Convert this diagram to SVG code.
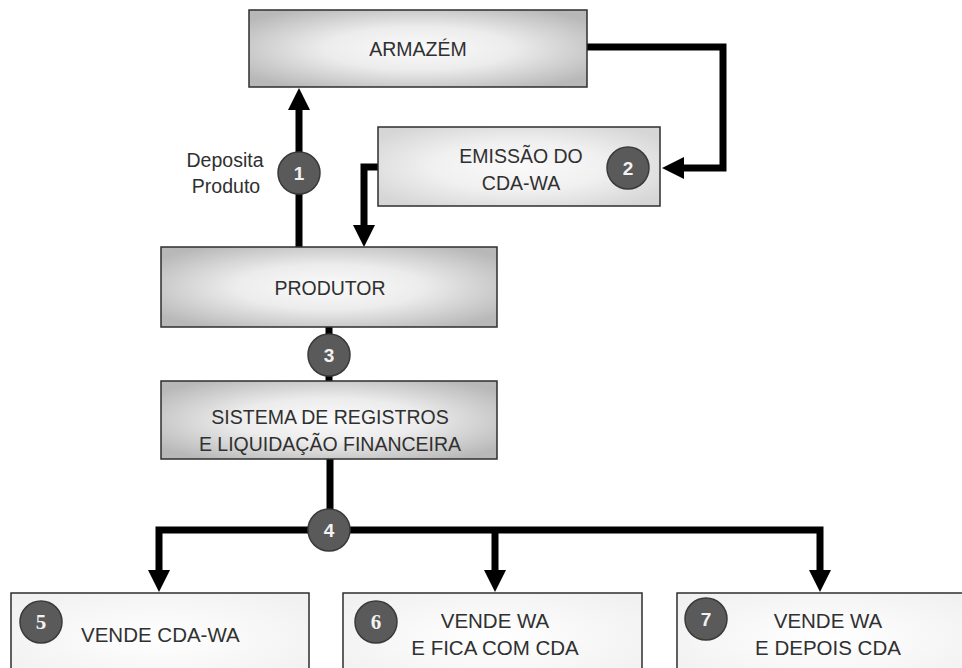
<svg xmlns="http://www.w3.org/2000/svg" width="962" height="668" viewBox="0 0 962 668">
  <style>
    .box { stroke: #2e2e2e; stroke-width: 1.5; }
    .lbl { font-family: "Liberation Sans", Arial, sans-serif; font-size: 19.5px; fill: #303030; }
    .lblb { font-family: "Liberation Sans", Arial, sans-serif; font-size: 20.5px; fill: #303030; }
    .badge { fill: #5a5a5a; stroke: #3a3a3a; stroke-width: 1.5; }
    .num { font-family: "Liberation Sans", Arial, sans-serif; font-weight: bold; font-size: 19px; fill: #f2f2f2; text-anchor: middle; }
    .numserif { font-family: "Liberation Serif", "Times New Roman", serif; font-weight: bold; font-size: 21px; fill: #f2f2f2; text-anchor: middle; }
    .wire { fill: none; stroke: #000; stroke-width: 7; stroke-linejoin: miter; }
    .head { fill: #000; }
  </style>
  <defs>
    <radialGradient id="gDark" cx="50%" cy="50%" r="62%">
      <stop offset="0" stop-color="#fafafa"/>
      <stop offset="0.45" stop-color="#ececec"/>
      <stop offset="1" stop-color="#b8b8b8"/>
    </radialGradient>
    <radialGradient id="gLight" cx="50%" cy="50%" r="62%">
      <stop offset="0" stop-color="#fafafa"/>
      <stop offset="0.5" stop-color="#f0f0f0"/>
      <stop offset="1" stop-color="#d6d6d6"/>
    </radialGradient>
    <radialGradient id="gWhite" cx="50%" cy="50%" r="62%">
      <stop offset="0" stop-color="#ffffff"/>
      <stop offset="1" stop-color="#f1f1f1"/>
    </radialGradient>
  </defs>

  <rect width="962" height="668" fill="#ffffff"/>

  <!-- connectors -->
  <g id="connectors">
    <!-- produtor -> armazem -->
    <path class="wire" d="M299 247 V108"/>
    <polygon class="head" points="299,88 288,110 310,110"/>
    <!-- armazem -> emissao -->
    <path class="wire" d="M587 47 H723 V168 H682"/>
    <polygon class="head" points="662,168 684,157 684,179"/>
    <!-- emissao -> produtor -->
    <path class="wire" d="M378 167 H364 V227"/>
    <polygon class="head" points="364,247 353,225 375,225"/>
    <!-- produtor -> sistema -->
    <path class="wire" d="M329 327 V381"/>
    <!-- sistema -> outcomes -->
    <path class="wire" d="M330 459 V530"/>
    <path class="wire" d="M159 572 V530 H820 V572"/>
    <path class="wire" d="M495 530 V572"/>
    <polygon class="head" points="159,592 148,570 170,570"/>
    <polygon class="head" points="495,592 484,570 506,570"/>
    <polygon class="head" points="820,592 809,570 831,570"/>
  </g>

  <g id="armazem">
    <rect class="box" x="249" y="10" width="338" height="77" fill="url(#gDark)"/>
    <text class="lbl" x="418" y="56" text-anchor="middle">ARMAZÉM</text>
  </g>

  <g id="emissao">
    <rect class="box" x="378" y="127" width="282" height="79" fill="url(#gLight)"/>
    <text class="lbl" x="521" y="163" text-anchor="middle">EMISSÃO DO</text>
    <text class="lbl" x="521" y="190" text-anchor="middle">CDA-WA</text>
  </g>

  <g id="produtor">
    <rect class="box" x="161" y="247" width="336" height="80" fill="url(#gDark)"/>
    <text class="lbl" x="330" y="295" text-anchor="middle">PRODUTOR</text>
  </g>

  <g id="sistema">
    <rect class="box" x="161" y="381" width="336" height="78" fill="url(#gDark)"/>
    <text class="lbl" x="330" y="424" text-anchor="middle">SISTEMA DE REGISTROS</text>
    <text class="lbl" x="330" y="451" text-anchor="middle">E LIQUIDAÇÃO FINANCEIRA</text>
  </g>

  <g id="deposita-label">
    <text class="lbl" x="225" y="167" text-anchor="middle">Deposita</text>
    <text class="lbl" x="226" y="193" text-anchor="middle">Produto</text>
  </g>

  <g id="vende-cda-wa">
    <rect class="box" x="11" y="593" width="298" height="90" fill="url(#gWhite)"/>
    <text class="lblb" x="81" y="642">VENDE CDA-WA</text>
  </g>

  <g id="vende-wa-fica">
    <rect class="box" x="343" y="593" width="299" height="90" fill="url(#gWhite)"/>
    <text class="lblb" x="495" y="628" text-anchor="middle">VENDE WA</text>
    <text class="lblb" x="495" y="655" text-anchor="middle">E FICA COM CDA</text>
  </g>

  <g id="vende-wa-depois">
    <rect class="box" x="677" y="593" width="300" height="90" fill="url(#gWhite)"/>
    <text class="lblb" x="828" y="628" text-anchor="middle">VENDE WA</text>
    <text class="lblb" x="828" y="655" text-anchor="middle">E DEPOIS CDA</text>
  </g>

  <!-- step badges -->
  <g id="step-1"><circle class="badge" cx="299" cy="173" r="21"/><text class="num" x="299" y="180">1</text></g>
  <g id="step-2"><circle class="badge" cx="628" cy="168" r="21"/><text class="num" x="628" y="175">2</text></g>
  <g id="step-3"><circle class="badge" cx="329" cy="355" r="21"/><text class="num" x="329" y="362">3</text></g>
  <g id="step-4"><circle class="badge" cx="329" cy="530" r="21"/><text class="num" x="329" y="537">4</text></g>
  <g id="step-5"><circle class="badge" cx="41" cy="622" r="21"/><text class="numserif" x="41" y="629">5</text></g>
  <g id="step-6"><circle class="badge" cx="376" cy="622" r="21"/><text class="numserif" x="376" y="629">6</text></g>
  <g id="step-7"><circle class="badge" cx="706" cy="619" r="21"/><text class="num" x="706" y="626">7</text></g>
</svg>
